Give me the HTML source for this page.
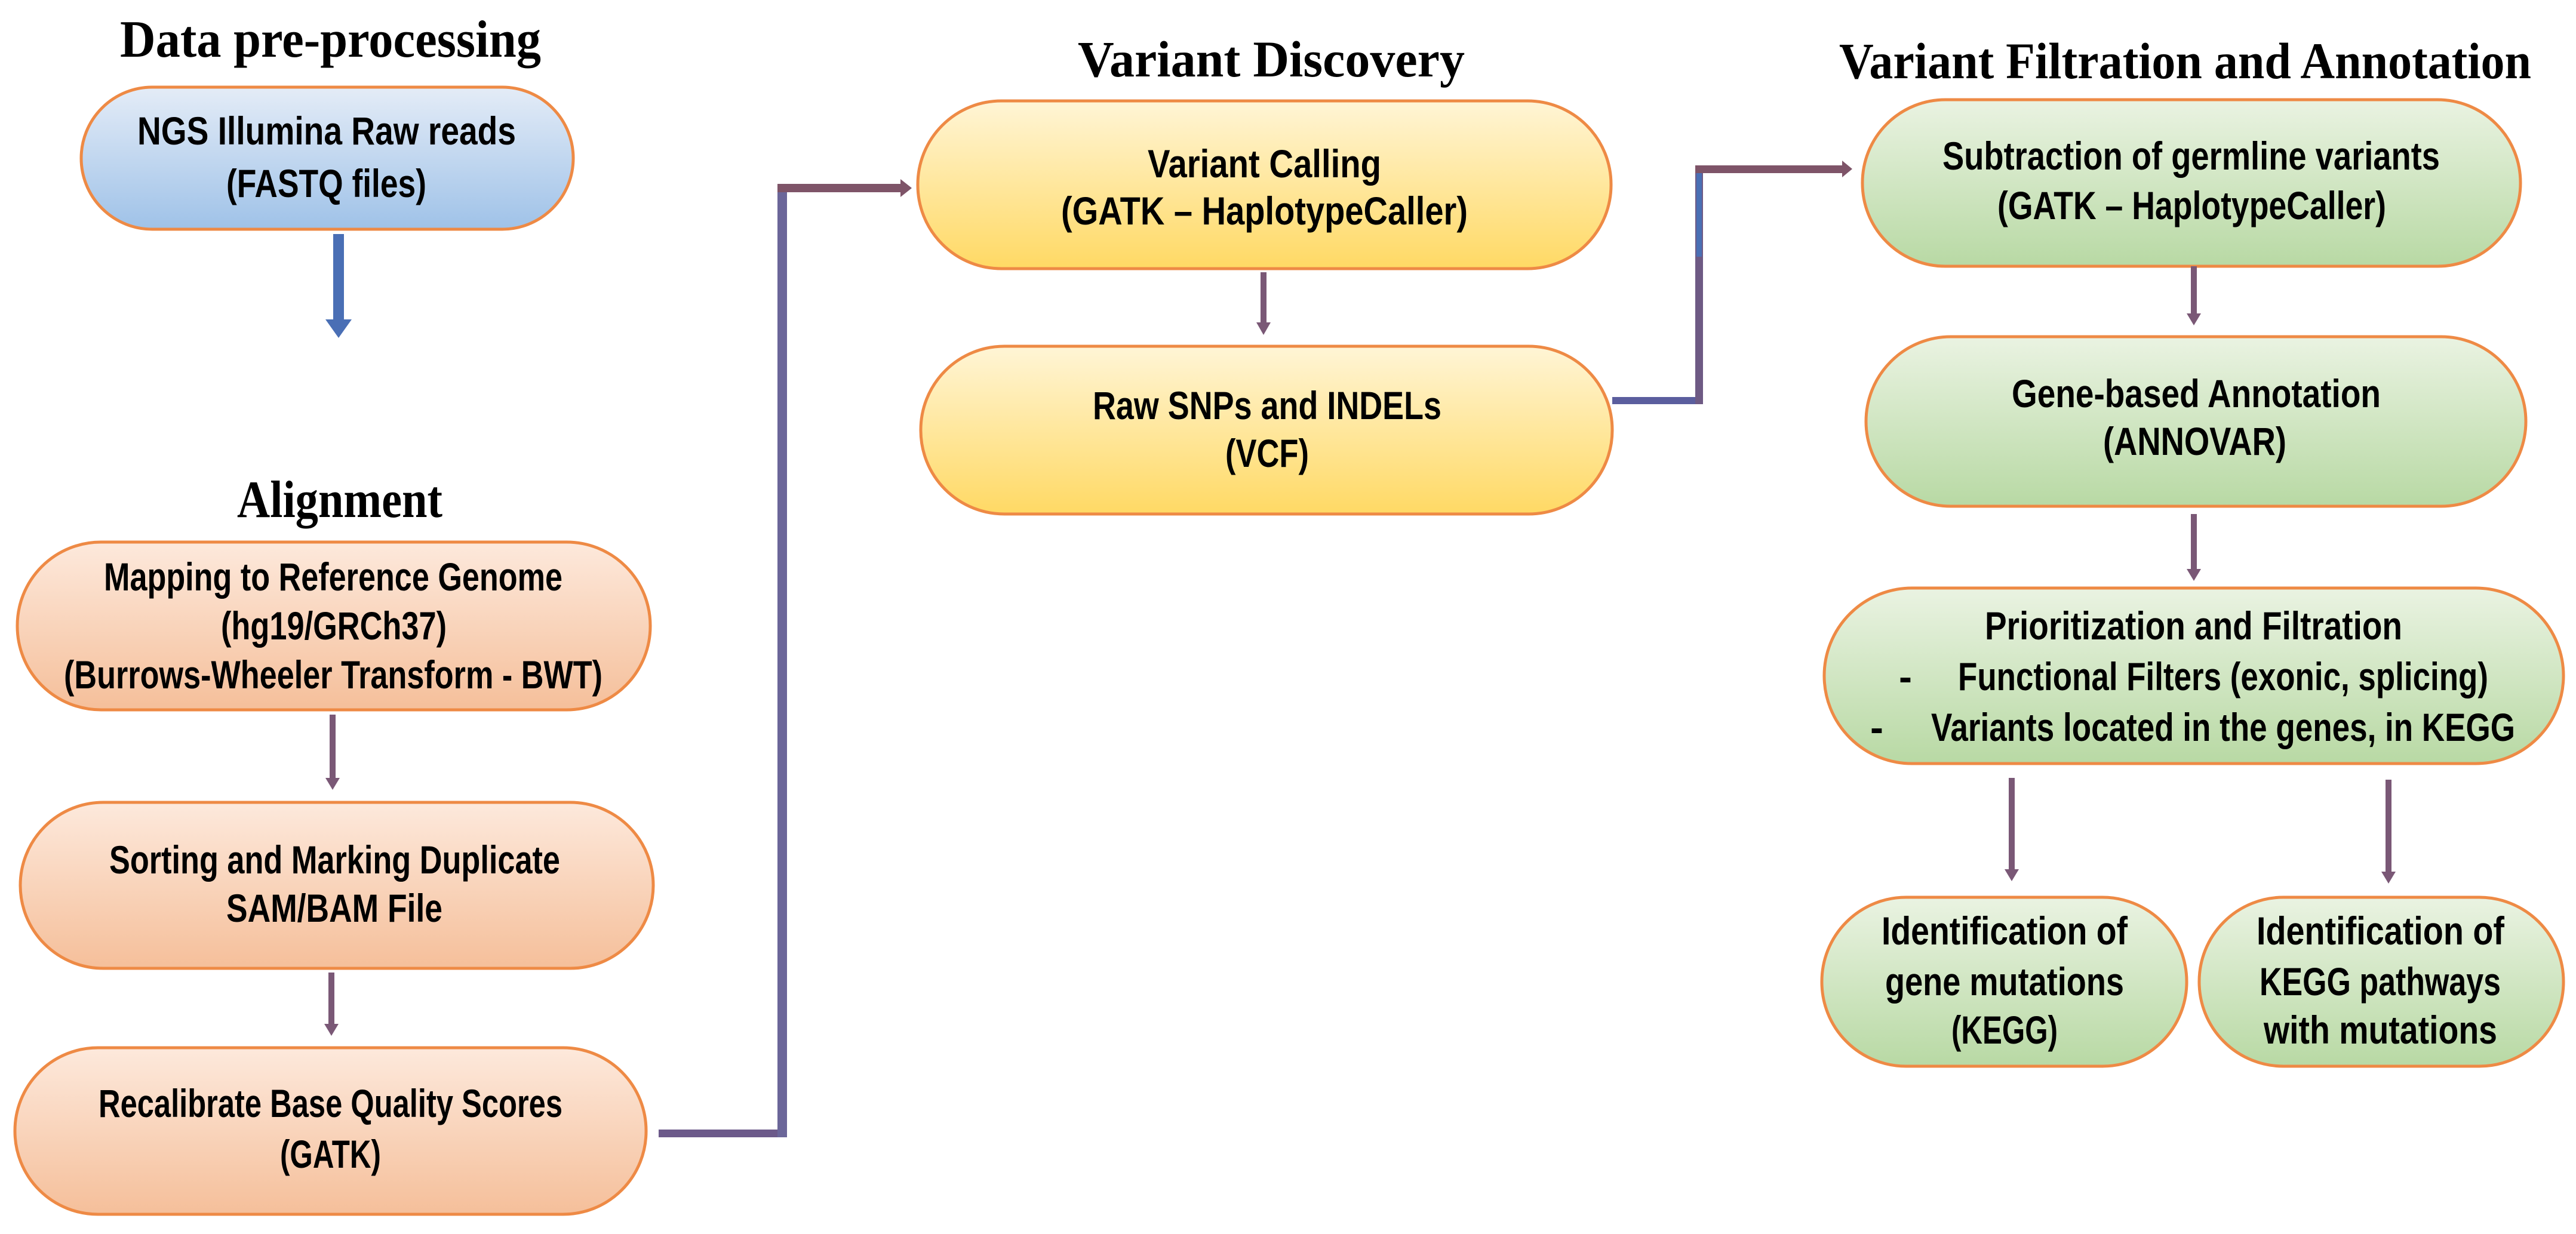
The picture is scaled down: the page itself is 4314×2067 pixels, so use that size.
<!DOCTYPE html>
<html><head><meta charset="utf-8"><style>
html,body{margin:0;padding:0;background:#fff;}
svg{display:block;}
.t{font-family:"Liberation Serif",serif;font-weight:bold;fill:#000;}
.b{font-family:"Liberation Sans",sans-serif;font-weight:bold;fill:#000;font-size:66px;}
</style></head><body>
<svg width="4314" height="2067" viewBox="0 0 4314 2067" xmlns="http://www.w3.org/2000/svg">
<defs>
<linearGradient id="gb" x1="0" y1="0" x2="0" y2="1"><stop offset="0" stop-color="#e4ecf7"/><stop offset="1" stop-color="#9fc2e8"/></linearGradient>
<linearGradient id="go" x1="0" y1="0" x2="0" y2="1"><stop offset="0" stop-color="#fde9dc"/><stop offset="1" stop-color="#f5bf9a"/></linearGradient>
<linearGradient id="gy" x1="0" y1="0" x2="0" y2="1"><stop offset="0" stop-color="#fff5d6"/><stop offset="1" stop-color="#ffd964"/></linearGradient>
<linearGradient id="gg" x1="0" y1="0" x2="0" y2="1"><stop offset="0" stop-color="#eaf3e2"/><stop offset="1" stop-color="#b8d9a4"/></linearGradient>
</defs>

<text class="t" x="201" y="95" font-size="88" textLength="705" lengthAdjust="spacingAndGlyphs">Data pre-processing</text>
<text class="t" x="397" y="866" font-size="88" textLength="344" lengthAdjust="spacingAndGlyphs">Alignment</text>
<text class="t" x="1805" y="128" font-size="86" textLength="648" lengthAdjust="spacingAndGlyphs">Variant Discovery</text>
<text class="t" x="3080" y="131" font-size="86" textLength="1159" lengthAdjust="spacingAndGlyphs">Variant Filtration and Annotation</text>

<g stroke="#ee8a45" stroke-width="5">
<rect x="136" y="146" width="824" height="238" rx="119" fill="url(#gb)"/>
<rect x="29" y="908" width="1060" height="281" rx="140" fill="url(#go)"/>
<rect x="34" y="1344" width="1060" height="278" rx="139" fill="url(#go)"/>
<rect x="25" y="1755" width="1057" height="279" rx="139" fill="url(#go)"/>
<rect x="1537" y="169" width="1161" height="281" rx="140" fill="url(#gy)"/>
<rect x="1542" y="580" width="1158" height="281" rx="140" fill="url(#gy)"/>
<rect x="3119" y="167" width="1102" height="279" rx="139" fill="url(#gg)"/>
<rect x="3125" y="564" width="1105" height="284" rx="142" fill="url(#gg)"/>
<rect x="3055" y="985" width="1238" height="294" rx="147" fill="url(#gg)"/>
<rect x="3051" y="1503" width="611" height="283" rx="141" fill="url(#gg)"/>
<rect x="3683" y="1503" width="610" height="283" rx="141" fill="url(#gg)"/>
</g>

<text class="b" x="230" y="242" font-size="68" textLength="634" lengthAdjust="spacingAndGlyphs">NGS Illumina Raw reads</text>
<text class="b" x="379" y="330" font-size="68" textLength="335" lengthAdjust="spacingAndGlyphs">(FASTQ files)</text>

<text class="b" x="174" y="989" textLength="768" lengthAdjust="spacingAndGlyphs">Mapping to Reference Genome</text>
<text class="b" x="370" y="1071" textLength="378" lengthAdjust="spacingAndGlyphs">(hg19/GRCh37)</text>
<text class="b" x="107" y="1153" textLength="902" lengthAdjust="spacingAndGlyphs">(Burrows-Wheeler Transform - BWT)</text>

<text class="b" x="183" y="1463" textLength="755" lengthAdjust="spacingAndGlyphs">Sorting and Marking Duplicate</text>
<text class="b" x="379" y="1544" textLength="362" lengthAdjust="spacingAndGlyphs">SAM/BAM File</text>

<text class="b" x="165" y="1871" textLength="777" lengthAdjust="spacingAndGlyphs">Recalibrate Base Quality Scores</text>
<text class="b" x="469" y="1956" textLength="169" lengthAdjust="spacingAndGlyphs">(GATK)</text>

<text class="b" x="1922" y="297" textLength="391" lengthAdjust="spacingAndGlyphs">Variant Calling</text>
<text class="b" x="1777" y="376" textLength="681" lengthAdjust="spacingAndGlyphs">(GATK – HaplotypeCaller)</text>

<text class="b" x="1830" y="702" textLength="584" lengthAdjust="spacingAndGlyphs">Raw SNPs and INDELs</text>
<text class="b" x="2052" y="782" textLength="140" lengthAdjust="spacingAndGlyphs">(VCF)</text>

<text class="b" x="3253" y="284" textLength="833" lengthAdjust="spacingAndGlyphs">Subtraction of germline variants</text>
<text class="b" x="3345" y="367" textLength="651" lengthAdjust="spacingAndGlyphs">(GATK – HaplotypeCaller)</text>

<text class="b" x="3369" y="682" textLength="618" lengthAdjust="spacingAndGlyphs">Gene-based Annotation</text>
<text class="b" x="3522" y="762" textLength="307" lengthAdjust="spacingAndGlyphs">(ANNOVAR)</text>

<text class="b" x="3324" y="1071" textLength="699" lengthAdjust="spacingAndGlyphs">Prioritization and Filtration</text>
<text class="b" x="3180" y="1156">-</text>
<text class="b" x="3279" y="1156" textLength="888" lengthAdjust="spacingAndGlyphs">Functional Filters (exonic, splicing)</text>
<text class="b" x="3132" y="1241">-</text>
<text class="b" x="3234" y="1241" textLength="978" lengthAdjust="spacingAndGlyphs">Variants located in the genes, in KEGG</text>

<text class="b" x="3151" y="1582" textLength="412" lengthAdjust="spacingAndGlyphs">Identification of</text>
<text class="b" x="3157" y="1667" textLength="400" lengthAdjust="spacingAndGlyphs">gene mutations</text>
<text class="b" x="3268" y="1748" textLength="178" lengthAdjust="spacingAndGlyphs">(KEGG)</text>

<text class="b" x="3779" y="1582" textLength="415" lengthAdjust="spacingAndGlyphs">Identification of</text>
<text class="b" x="3784" y="1667" textLength="404" lengthAdjust="spacingAndGlyphs">KEGG pathways</text>
<text class="b" x="3791" y="1748" textLength="391" lengthAdjust="spacingAndGlyphs">with mutations</text>

<rect x="558" y="392" width="18" height="150" fill="#4a6fb5"/>
<polygon points="545,535 589,535 567,566" fill="#4a6fb5"/>

<g fill="#7a5876">
<rect x="552" y="1197" width="10" height="110"/><polygon points="545,1303 569,1303 557,1323"/>
<rect x="550" y="1629" width="10" height="90"/><polygon points="543,1715 567,1715 555,1735"/>
<rect x="2111" y="456" width="10" height="88"/><polygon points="2104,540 2128,540 2116,561"/>
<rect x="3669" y="446" width="10" height="82"/><polygon points="3662,525 3686,525 3674,545"/>
<rect x="3669" y="861" width="10" height="95"/><polygon points="3662,953 3686,953 3674,973"/>
<rect x="3364" y="1303" width="10" height="155"/><polygon points="3357,1456 3381,1456 3369,1476"/>
<rect x="3995" y="1306" width="10" height="155"/><polygon points="3988,1460 4012,1460 4000,1480"/>
</g>

<rect x="1103" y="1892" width="208" height="13" fill="#6c5a8a"/>
<rect x="1302" y="308" width="16" height="1597" fill="#6b6699"/>
<rect x="1302" y="308" width="210" height="14" fill="#7e5468"/>
<polygon points="1508,300 1527,315 1508,330" fill="#7e5468"/>

<rect x="2700" y="665" width="150" height="12" fill="#5b5e9e"/>
<rect x="2839" y="279" width="13" height="398" fill="#6e5a84"/>
<rect x="2841" y="280" width="9" height="150" fill="#4a6fb5"/>
<rect x="2839" y="277" width="248" height="13" fill="#7e5468"/>
<polygon points="3085,269 3102,283 3085,297" fill="#7e5468"/>
</svg>
</body></html>
